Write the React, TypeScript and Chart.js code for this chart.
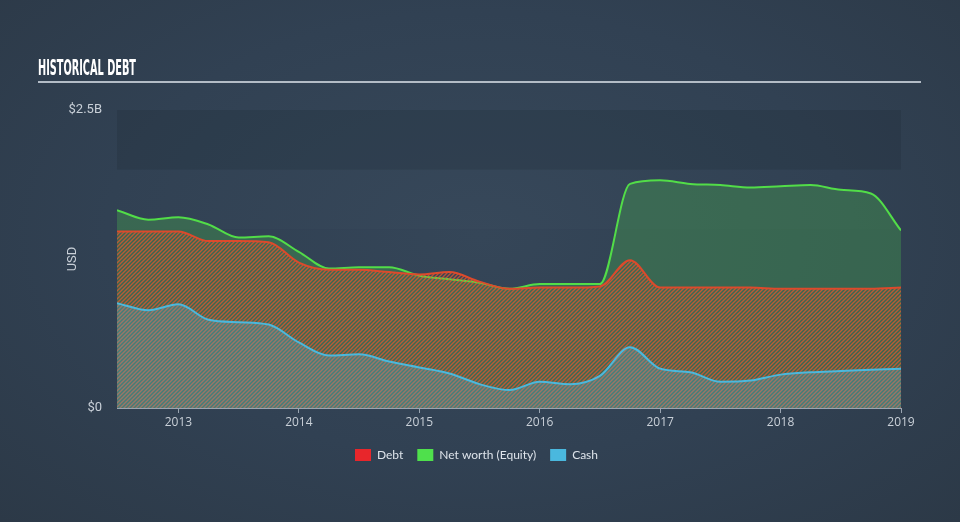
import React, { useEffect, useRef } from 'react';
import { Chart, registerables } from 'chart.js';

Chart.register(...registerables);

// ---- data ----
const periods = [
  2012.49, 2012.75, 2013.0, 2013.25, 2013.5, 2013.75, 2014.0, 2014.25, 2014.5,
  2014.75, 2015.0, 2015.25, 2015.5, 2015.75, 2016.0, 2016.25, 2016.5, 2016.75,
  2017.0, 2017.25, 2017.5, 2017.75, 2018.0, 2018.25, 2018.5, 2018.75, 2019.0,
];
const debtValues = [
  1.48, 1.48, 1.48, 1.4, 1.4, 1.39, 1.22, 1.16, 1.16, 1.14, 1.12, 1.14, 1.06,
  1.0, 1.01, 1.01, 1.02, 1.24, 1.01, 1.01, 1.01, 1.01, 1.0, 1.0, 1.0, 1.0, 1.01,
];
const equityValues = [
  1.66, 1.58, 1.6, 1.54, 1.43, 1.44, 1.31, 1.17, 1.18, 1.18, 1.11, 1.08, 1.05,
  1.0, 1.04, 1.04, 1.04, 1.88, 1.91, 1.88, 1.87, 1.85, 1.86, 1.87, 1.83, 1.8, 1.49,
];
const cashValues = [
  0.88, 0.82, 0.87, 0.74, 0.72, 0.7, 0.55, 0.44, 0.45, 0.39, 0.34, 0.29, 0.2,
  0.15, 0.22, 0.2, 0.27, 0.51, 0.33, 0.3, 0.22, 0.23, 0.28, 0.3, 0.31, 0.32, 0.33,
];
const xTickValues = [2013, 2014, 2015, 2016, 2017, 2018, 2019];
const yTickValues = [0, 2.5];
const seriesLabels = ['Debt', 'Net worth (Equity)', 'Cash'];
const titleText = 'HISTORICAL DEBT';
const yAxisTitle = 'USD';

const LABEL_COLOR = '#c9d0d8';

function stripePattern(color: string): CanvasPattern | string {
  const c = document.createElement('canvas');
  c.width = 4;
  c.height = 4;
  const g = c.getContext('2d');
  if (!g) return color;
  g.strokeStyle = color;
  g.lineWidth = 1.4;
  g.beginPath();
  g.moveTo(0, 4);
  g.lineTo(4, 0);
  g.moveTo(-1, 1);
  g.lineTo(1, -1);
  g.moveTo(3, 5);
  g.lineTo(5, 3);
  g.stroke();
  return g.createPattern(c, 'repeat') || color;
}

const decorPlugin = {
  id: 'decor',
  beforeDraw(chart: any) {
    const { ctx, chartArea, scales } = chart;
    const y = scales.y;
    ctx.save();
    const bands: [number, number, string][] = [
      [2.0, 2.5, 'rgba(20,28,40,0.16)'],
      [1.0, 1.5, 'rgba(20,28,40,0.04)'],
    ];
    for (const [a, b, col] of bands) {
      const y1 = y.getPixelForValue(b);
      const y2 = y.getPixelForValue(a);
      ctx.fillStyle = col;
      ctx.fillRect(chartArea.left, y1, chartArea.right - chartArea.left, y2 - y1);
    }
    ctx.font = 'bold 21px "Liberation Sans Narrow", "DejaVu Sans Condensed", sans-serif';
    const w = ctx.measureText(titleText).width;
    const sx = 98 / w;
    ctx.translate(38, 75);
    ctx.scale(sx, 1);
    ctx.fillStyle = '#ffffff';
    ctx.textBaseline = 'alphabetic';
    ctx.fillText(titleText, 0, 0);
    ctx.setTransform(1, 0, 0, 1, 0, 0);
    ctx.fillStyle = '#b3bcc6';
    ctx.fillRect(38, 81, 883, 2);
    ctx.restore();
  },
};

export default function App() {
  const ref = useRef<HTMLCanvasElement | null>(null);

  useEffect(() => {
    document.body.style.margin = '0';
    const canvas = ref.current;
    if (!canvas) return;
    const toPts = (vals: number[]) => vals.map((v, i) => ({ x: periods[i], y: v }));
    const legendColors = ['#e8262b', '#4fe04c', '#4ab8de'];

    const chart = new Chart(canvas, {
      type: 'line',
      data: {
        datasets: [
          {
            label: seriesLabels[0],
            data: toPts(debtValues),
            borderColor: '#dc4a2c',
            backgroundColor: stripePattern('rgba(228,90,45,0.75)') as any,
            fill: 'origin',
            order: 1,
          },
          {
            label: seriesLabels[1],
            data: toPts(equityValues),
            borderColor: '#52dd48',
            backgroundColor: 'rgba(70,165,80,0.38)',
            fill: 'origin',
            order: 2,
          },
          {
            label: seriesLabels[2],
            data: toPts(cashValues),
            borderColor: '#4cb8dc',
            backgroundColor: 'rgba(90,180,215,0.3)',
            fill: 'origin',
            order: 0,
          },
        ],
      },
      options: {
        animation: false,
        responsive: false,
        maintainAspectRatio: false,
        layout: { padding: { top: 110, right: 59, bottom: 51, left: 52 } },
        elements: {
          point: { radius: 0, hoverRadius: 0 },
          line: { borderWidth: 2, cubicInterpolationMode: 'monotone' },
        },
        scales: {
          x: {
            type: 'linear',
            min: periods[0],
            max: periods[periods.length - 1],
            afterBuildTicks: (s: any) => {
              s.ticks = xTickValues.map((v) => ({ value: v }));
            },
            afterFit: (s: any) => {
              s.height = 27;
            },
            ticks: {
              color: LABEL_COLOR,
              font: { family: '"Open Sans", sans-serif', size: 12 },
              padding: 2,
              autoSkip: false,
              maxRotation: 0,
              callback: (v: any) => String(v),
            },
            grid: {
              drawOnChartArea: false,
              drawTicks: true,
              tickLength: 5,
              color: '#9aa5b1',
            },
            border: { display: true, color: '#9aa5b1', width: 1 },
          },
          y: {
            min: 0,
            max: 2.5,
            afterBuildTicks: (s: any) => {
              s.ticks = yTickValues.map((v) => ({ value: v }));
            },
            afterFit: (s: any) => {
              s.width = 65;
            },
            ticks: {
              color: LABEL_COLOR,
              font: { family: 'Roboto, sans-serif', size: 13 },
              padding: 15,
              callback: (v: any) => (Number(v) === 0 ? '$0' : '$' + v + 'B'),
            },
            grid: { display: false, drawTicks: false },
            border: { display: false },
            title: {
              display: true,
              text: yAxisTitle,
              color: LABEL_COLOR,
              font: { family: 'Roboto, sans-serif', size: 13 },
              padding: { top: 13, bottom: 0 },
            },
          },
        },
        plugins: {
          tooltip: { enabled: false },
          legend: {
            position: 'bottom',
            labels: {
              color: '#dde3ea',
              font: { family: 'Lato, sans-serif', size: 12 },
              boxWidth: 16,
              boxHeight: 12,
              padding: 14,
              generateLabels: (c: any) =>
                c.data.datasets.map((d: any, i: number) => ({
                  text: d.label,
                  fillStyle: legendColors[i],
                  strokeStyle: legendColors[i],
                  lineWidth: 0,
                  fontColor: '#dde3ea',
                  hidden: false,
                  datasetIndex: i,
                })),
            },
          },
        },
      },
      plugins: [decorPlugin],
    } as any);

    return () => chart.destroy();
  }, []);

  return (
    <div
      style={{
        position: 'relative',
        width: 960,
        height: 522,
        background: 'radial-gradient(ellipse at 50% 45%, #37485a 0%, #314153 55%, #2c3947 100%)',
      }}
    >
      <canvas ref={ref} width={960} height={522} style={{ display: 'block' }} />
    </div>
  );
}
